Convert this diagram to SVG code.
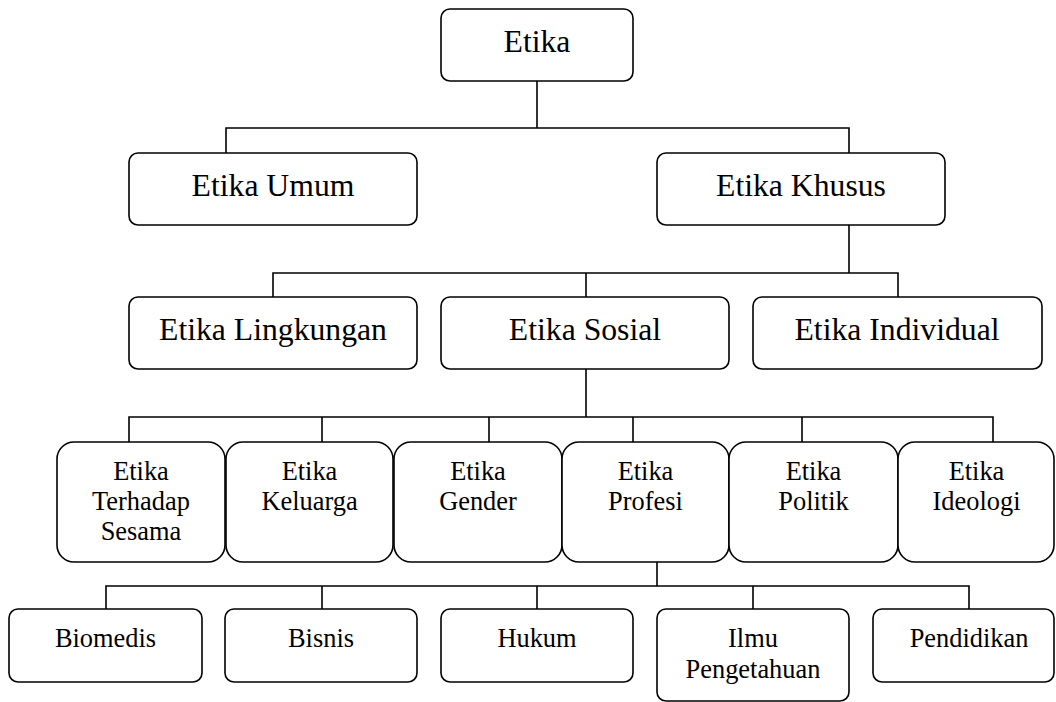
<svg xmlns="http://www.w3.org/2000/svg" width="1056" height="702" viewBox="0 0 1056 702">
<style>
.b{fill:#fff;stroke:#000;stroke-width:1.6}
.c{fill:none;stroke:#000;stroke-width:1.6}
.L{font-family:"Liberation Serif","Times New Roman",serif;font-size:31.7px;text-anchor:middle;fill:#000}
.S{font-family:"Liberation Serif","Times New Roman",serif;font-size:26.4px;text-anchor:middle;fill:#000}
</style>
<rect width="1056" height="702" fill="#fff"/>
<g id="connectors">
<path class="c" d="M537 81V128M226 153V128H849V153"/>
<path class="c" d="M849 225V273M273 297V273H898V297M586 273V297"/>
<path class="c" d="M586 369V417M129 442V417H993V442M322 417V442M489 417V442M633 417V442M802 417V442"/>
<path class="c" d="M657 562V586M106 609V586H969V609M322 586V609M537 586V609M753 586V609"/>
</g>
<g id="n-etika"><rect class="b" x="441" y="9" width="192" height="72" rx="9"/><text class="L" x="537" y="52">Etika</text></g>
<g id="n-umum"><rect class="b" x="129" y="153" width="288" height="72" rx="9"/><text class="L" x="273" y="196">Etika Umum</text></g>
<g id="n-khusus"><rect class="b" x="657" y="153" width="288" height="72" rx="9"/><text class="L" x="801" y="196">Etika Khusus</text></g>
<g id="n-lingkungan"><rect class="b" x="129" y="297" width="288" height="72" rx="9"/><text class="L" x="273" y="340">Etika Lingkungan</text></g>
<g id="n-sosial"><rect class="b" x="441" y="297" width="288" height="72" rx="9"/><text class="L" x="585" y="340">Etika Sosial</text></g>
<g id="n-individual"><rect class="b" x="753" y="297" width="289" height="72" rx="9"/><text class="L" x="897" y="340">Etika Individual</text></g>
<g id="n-sesama"><rect class="b" x="57" y="442" width="168" height="120" rx="17"/><text class="S" x="141" y="480">Etika</text><text class="S" x="141" y="510">Terhadap</text><text class="S" x="141" y="540">Sesama</text></g>
<g id="n-keluarga"><rect class="b" x="226" y="442" width="167" height="120" rx="17"/><text class="S" x="309.5" y="480">Etika</text><text class="S" x="309.5" y="510">Keluarga</text></g>
<g id="n-gender"><rect class="b" x="394" y="442" width="168" height="120" rx="17"/><text class="S" x="478" y="480">Etika</text><text class="S" x="478" y="510">Gender</text></g>
<g id="n-profesi"><rect class="b" x="562" y="442" width="167" height="120" rx="17"/><text class="S" x="645.5" y="480">Etika</text><text class="S" x="645.5" y="510">Profesi</text></g>
<g id="n-politik"><rect class="b" x="729" y="442" width="169" height="120" rx="17"/><text class="S" x="813.5" y="480">Etika</text><text class="S" x="813.5" y="510">Politik</text></g>
<g id="n-ideologi"><rect class="b" x="898" y="442" width="156" height="120" rx="17"/><text class="S" x="976.5" y="480">Etika</text><text class="S" x="976.5" y="510">Ideologi</text></g>
<g id="n-biomedis"><rect class="b" x="9" y="609" width="193" height="73" rx="9"/><text class="S" x="105.5" y="647">Biomedis</text></g>
<g id="n-bisnis"><rect class="b" x="225" y="609" width="192" height="73" rx="9"/><text class="S" x="321" y="647">Bisnis</text></g>
<g id="n-hukum"><rect class="b" x="441" y="609" width="192" height="73" rx="9"/><text class="S" x="537" y="647">Hukum</text></g>
<g id="n-ilmu"><rect class="b" x="657" y="609" width="192" height="92" rx="9"/><text class="S" x="753" y="647">Ilmu</text><text class="S" x="753" y="678">Pengetahuan</text></g>
<g id="n-pendidikan"><rect class="b" x="873" y="609" width="181" height="73" rx="9"/><text class="S" x="969" y="647">Pendidikan</text></g>
</svg>
